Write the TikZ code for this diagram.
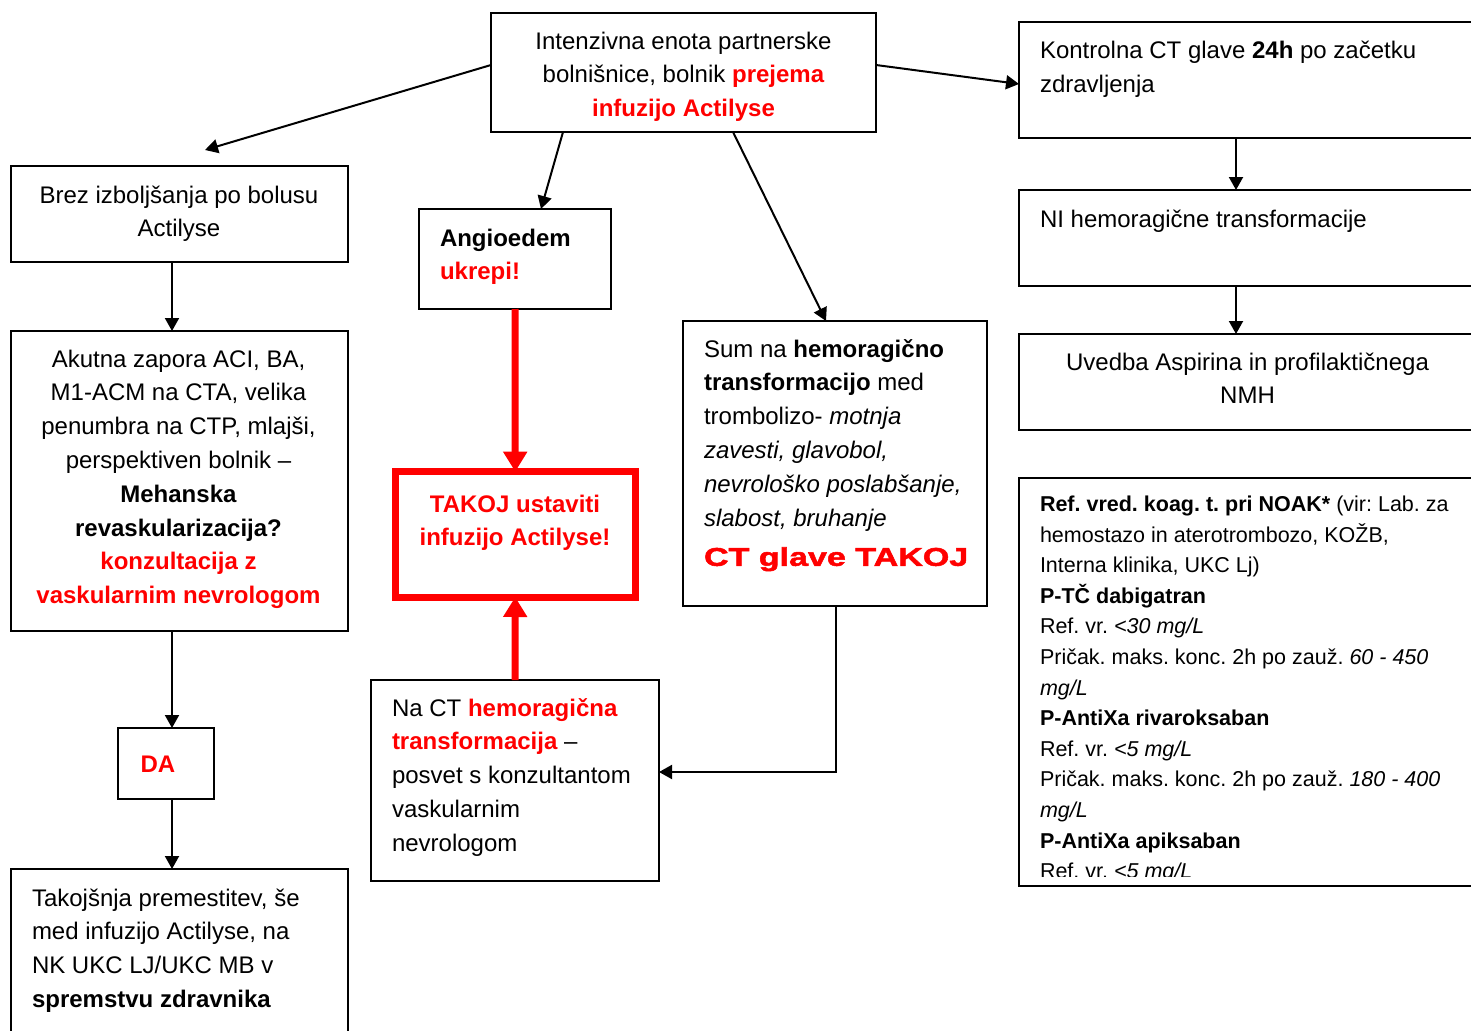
\documentclass[tikz,border=0pt]{standalone}
\usepackage{fontspec}
\setmainfont{Liberation Sans}
\newfontfamily\ctfont[FakeStretch=1.33,FakeBold=2]{Liberation Sans}
\usetikzlibrary{arrows.meta,calc}
\definecolor{myred}{RGB}{255,0,0}
\newcommand\rb[1]{\textcolor{myred}{\textbf{#1}}}
\frenchspacing
\begin{document}
\begin{tikzpicture}[x=1pt,y=-1pt,
  boxst/.style={draw=black,line width=2pt,inner sep=0pt,outer sep=0pt,anchor=north west},
  redbox/.style={draw=myred,line width=7pt,inner sep=0pt,outer sep=0pt,anchor=north west},
  txt/.style={inner sep=0pt,outer sep=0pt,font=\fontsize{24}{33.8}\selectfont\frenchspacing},
  lt/.style={txt,anchor=base west,text width=440pt,align=flush left},
  ct/.style={txt,anchor=base,text width=440pt,align=flush center},
  arr/.style={draw=black,line width=2pt,-{Triangle[length=13pt,width=14pt]}},
  rarr/.style={draw=myred,line width=7pt,-{Triangle[length=20pt,width=23pt]}}]
\fill[white] (0,0) rectangle (1471,1030);
\useasboundingbox (0,0) rectangle (1471,1030);

% boxes
\node[boxst,minimum width=385pt,minimum height=119pt] (top) at (491,13) {};
\node[boxst,minimum width=457pt,minimum height=116pt] (kontrola) at (1019,22) {};
\node[boxst,minimum width=457pt,minimum height=96pt] (ni) at (1019,190) {};
\node[boxst,minimum width=457pt,minimum height=96pt] (uvedba) at (1019,334) {};
\node[boxst,minimum width=457pt,minimum height=408pt] (ref) at (1019,478) {};
\node[boxst,minimum width=337pt,minimum height=96pt] (brez) at (11,166) {};
\node[boxst,minimum width=337pt,minimum height=300pt] (akut) at (11,331) {};
\node[boxst,minimum width=96pt,minimum height=71pt] (da) at (118,728) {};
\node[boxst,minimum width=337pt,minimum height=171pt] (tak) at (11,869) {};
\node[boxst,minimum width=192pt,minimum height=100pt] (angio) at (419,209) {};
\node[redbox,minimum width=240.5pt,minimum height=125.3pt] (takoj) at (395,471.7) {};
\node[boxst,minimum width=288pt,minimum height=201pt] (nact) at (371,680) {};
\node[boxst,minimum width=304pt,minimum height=285pt] (sum) at (683,321) {};

% texts
\node[ct,font=\fontsize{24}{33.5}\selectfont] (ttop) at (683.5,49.5) {Intenzivna enota partnerske\\ bolnišnice, bolnik \rb{prejema}\\ \rb{infuzijo Actilyse}};
\node[lt] (tkontrola) at (1040,58.5) {Kontrolna CT glave \textbf{24h} po začetku\\ zdravljenja};
\node[lt] (tni) at (1040,227) {NI hemoragične transformacije};
\node[ct] (tuvedba) at (1247.5,370) {Uvedba Aspirina in profilaktičnega\\ NMH};
\node[ct] (tbrez) at (179,203) {Brez izboljšanja po bolusu\\ Actilyse};
\node[ct] (takut) at (178.5,367) {Akutna zapora ACI, BA,\\ M1-ACM na CTA, velika\\ penumbra na CTP, mlajši,\\ perspektiven bolnik –\\ \textbf{Mehanska}\\ \textbf{revaskularizacija?}\\ \rb{konzultacija z}\\ \rb{vaskularnim nevrologom}};
\node[txt,anchor=base] (tda) at (158,772) {\rb{DA}};
\node[lt] (ttak) at (32,906) {Takojšnja premestitev, še\\ med infuzijo Actilyse, na\\ NK UKC LJ/UKC MB v\\ \textbf{spremstvu zdravnika}};
\node[lt] (tangio) at (440,246) {\textbf{Angioedem}\\ \rb{ukrepi!}};
\node[ct] (ttakoj) at (515,512) {\rb{TAKOJ ustaviti}\\ \rb{infuzijo Actilyse!}};
\node[lt] (tnact) at (392,716) {Na CT \rb{hemoragična}\\ \rb{transformacija} –\\ posvet s konzultantom\\ vaskularnim\\ nevrologom};
\node[lt] (tsum) at (704,357) {Sum na \textbf{hemoragično}\\ \textbf{transformacijo} med\\ trombolizo- \textit{motnja}\\ \textit{zavesti, glavobol,}\\ \textit{nevrološko poslabšanje,}\\ \textit{slabost, bruhanje}\\[6pt] {\fontsize{25.6}{33.8}\selectfont\ctfont\bfseries\textcolor{myred}{CT glave TAKOJ}}};
\begin{scope}
\clip (1019,478) rectangle (1471,876);
\node[lt,font=\fontsize{21.5}{30.6}\selectfont\frenchspacing] (tref) at (1040,511.5) {\textbf{Ref. vred. koag. t. pri NOAK*} (vir: Lab. za\\ hemostazo in aterotrombozo, KOŽB,\\ Interna klinika, UKC Lj)\\ \textbf{P-TČ dabigatran}\\ Ref. vr. \textit{<30 mg/L}\\ Pričak. maks. konc. 2h po zauž. \textit{60 - 450}\\ \textit{mg/L}\\ \textbf{P-AntiXa rivaroksaban}\\ Ref. vr. \textit{<5 mg/L}\\ Pričak. maks. konc. 2h po zauž. \textit{180 - 400}\\ \textit{mg/L}\\ \textbf{P-AntiXa apiksaban}\\ Ref. vr. \textit{<5 mg/L}};
\end{scope}

% connectors
\coordinate (brezin) at (205,150);
\draw[arr] ([yshift=7.5pt]top.west) -- (brezin);
\draw[arr] ([xshift=72pt]top.south west) -- ([xshift=122pt]angio.north west);
\draw[arr] ([xshift=242pt]top.south west) -- ([xshift=143pt]sum.north west);
\draw[arr] ([yshift=7.5pt]top.east) -- ([yshift=-4pt]kontrola.west);
\draw[arr] ([xshift=217pt]kontrola.south west) -- ([xshift=217pt]ni.north west);
\draw[arr] ([xshift=217pt]ni.south west) -- ([xshift=217pt]uvedba.north west);
\draw[arr] ([xshift=161pt]brez.south west) -- ([xshift=161pt]akut.north west);
\draw[arr] ([xshift=161pt]akut.south west) -- ([xshift=54pt]da.north west);
\draw[arr] ([xshift=54pt]da.south west) -- ([xshift=161pt]tak.north west);
\draw[arr] ([xshift=153pt]sum.south west) |- ([yshift=8.5pt]nact.east);
\draw[rarr] (angio.south) -- (takoj.north);
\draw[rarr] (nact.north) -- (takoj.south);
\end{tikzpicture}
\end{document}
